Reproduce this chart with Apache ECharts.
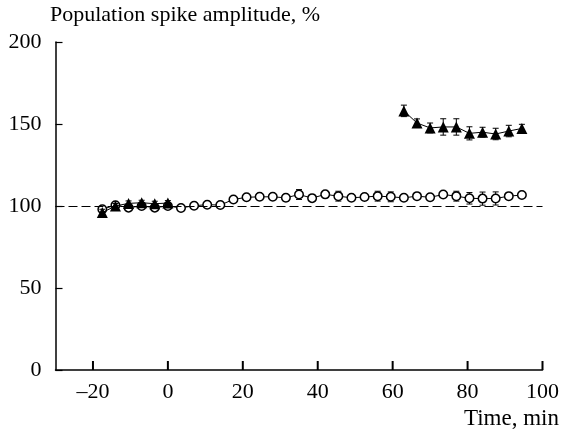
<!DOCTYPE html>
<html>
<head>
<meta charset="utf-8">
<script src="https://cdn.jsdelivr.net/npm/echarts@6/dist/echarts.min.js"></script>
<style>html,body{margin:0;padding:0;background:#fff;}#c{width:562px;height:433px;}</style>
</head>
<body>
<div id="c"></div>
<script>
// Time points (min)
const circleTimes = [-17.5,-14,-10.5,-7,-3.5,0,3.5,7,10.5,14,17.5,21,24.5,28,31.5,35,38.5,42,45.5,49,52.5,56,59.5,63,66.5,70,73.5,77,80.5,84,87.5,91,94.5];
const circleValues = [98,100.5,99,100,99,100,98.8,100.2,100.8,100.6,104,105.3,105.6,105.6,105,107,104.8,107.1,106,105,105.5,106,105.6,105,106,105.3,107,106,104.7,104.5,104.6,106,106.7];
const circleErrors = [1.5,1.5,1.5,1.5,1.5,1.5,1.5,1.5,1.5,1.5,1.5,1.5,1.5,1.5,2,3,1.5,1.5,3,1.5,1.5,3,3,1.5,2,2,1.5,3,3.5,4,4,2,1.5];
const triTimesPre = [-17.5,-14,-10.5,-7,-3.5,0];
const triValuesPre = [96,100,101.6,102,101.4,101.8];
const triErrorsPre = [2,1.5,1.5,1.5,1.5,1.5];
const triTimesPost = [63,66.5,70,73.5,77,80.5,84,87.5,91,94.5];
const triValuesPost = [158,150.6,147.6,148.2,148.2,144.3,145,143.9,145.7,147.3];
const triErrorsPost = [3.5,2.5,3,5,5,4,3,3.5,3.5,2.5];
const xTicks = [-20,0,20,40,60,80,100];
const yTicks = [0,50,100,150,200];
const baseline = 100;

const chart = echarts.init(document.getElementById('c'));
const font = 'Liberation Serif';

function errData(t, v, e){ return t.map((x,i)=>[x, v[i]-e[i], v[i]+e[i]]); }
function renderErr(params, api){
  const x = api.value(0);
  const p1 = api.coord([x, api.value(1)]);
  const p2 = api.coord([x, api.value(2)]);
  const w = 3;
  const st = {stroke:'#000', lineWidth:1};
  return {type:'group', children:[
    {type:'line', shape:{x1:p1[0],y1:p1[1],x2:p2[0],y2:p2[1]}, style:st},
    {type:'line', shape:{x1:p1[0]-w,y1:p1[1],x2:p1[0]+w,y2:p1[1]}, style:st},
    {type:'line', shape:{x1:p2[0]-w,y1:p2[1],x2:p2[0]+w,y2:p2[1]}, style:st}
  ]};
}
function renderTick(params, api){
  const p = api.coord([api.value(0), api.value(1)]);
  return {type:'rect', shape:{x:p[0]-1, y:p[1]-9, width:2, height:9},
    style:{fill:'#000'}};
}
function pairs(t, v){ return t.map((x,i)=>[x, v[i]]); }

const L = 55.5, R = 19, T = 42, B = 63;
const xMin = -30, xMax = 100, yMin = 0, yMax = 200;

chart.setOption({
  animation:false,
  backgroundColor:'#fff',
  grid:{left:L, right:R, top:T, bottom:B},
  xAxis:{type:'value', min:xMin, max:xMax, interval:10,
    axisLine:{onZero:false, lineStyle:{color:'#000', width:1.5}},
    axisTick:{show:false},
    axisLabel:{color:'#000', fontFamily:font, fontSize:22, margin:11, customValues:xTicks,
      formatter: v => v < 0 ? '\u2013' + Math.abs(v) : String(v)},
    splitLine:{show:false}},
  yAxis:{type:'value', min:yMin, max:yMax, interval:50,
    axisLine:{show:true, onZero:false, lineStyle:{color:'#000', width:1.5}},
    axisTick:{show:true, inside:true, length:7, lineStyle:{color:'#000', width:1.2}},
    axisLabel:{color:'#000', fontFamily:font, fontSize:22, margin:14},
    splitLine:{show:false}},
  graphic:[
    {type:'text', left:50, top:4, style:{text:'Population spike amplitude, %', font:'22px "Liberation Serif"', fill:'#000'}},
    {type:'text', right:3, top:407, style:{text:'Time, min', font:'23px "Liberation Serif"', fill:'#000'}}
  ],
  series:[
    {type:'line', data:[], silent:true,
      markLine:{symbol:'none', silent:true, label:{show:false},
        lineStyle:{color:'#000', type:[9,4], width:1},
        data:[[{coord:[xMin,baseline]},{coord:[xMax,baseline]}]]}},
    {type:'custom', renderItem:renderTick, silent:true, clip:false,
      data:xTicks.map(t => [t, yMin]), z:6},
    {type:'custom', renderItem:renderErr, data:errData(circleTimes, circleValues, circleErrors), z:2},
    {type:'line', data:pairs(circleTimes, circleValues), symbol:'circle', symbolSize:8.5,
      lineStyle:{color:'#000', width:1}, itemStyle:{color:'#fff', borderColor:'#000', borderWidth:1.5}, z:3},
    {type:'custom', renderItem:renderErr, data:errData(triTimesPre, triValuesPre, triErrorsPre), z:4},
    {type:'custom', renderItem:renderErr, data:errData(triTimesPost, triValuesPost, triErrorsPost), z:4},
    {type:'line', data:pairs(triTimesPre, triValuesPre), symbol:'triangle', symbolSize:11,
      lineStyle:{color:'#000', width:1}, itemStyle:{color:'#000', borderColor:'#000', borderWidth:0}, z:5},
    {type:'line', data:pairs(triTimesPost, triValuesPost), symbol:'triangle', symbolSize:11,
      lineStyle:{color:'#000', width:1}, itemStyle:{color:'#000', borderColor:'#000', borderWidth:0}, z:5}
  ]
});
</script>
</body>
</html>
